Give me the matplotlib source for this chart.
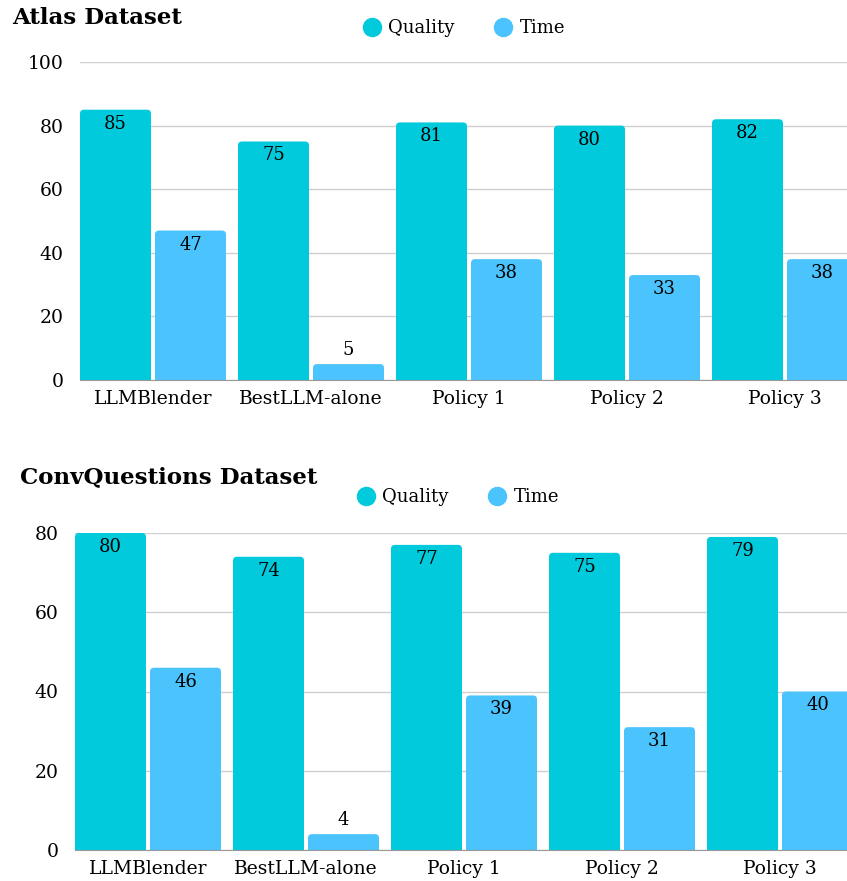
import matplotlib.pyplot as plt
import numpy as np
from matplotlib.patches import FancyBboxPatch
from matplotlib.lines import Line2D

categories = ["LLMBlender", "BestLLM-alone", "Policy 1", "Policy 2", "Policy 3"]
atlas_quality = [85, 75, 81, 80, 82]
atlas_time = [47, 5, 38, 33, 38]
conv_quality = [80, 74, 77, 75, 79]
conv_time = [46, 4, 39, 31, 40]

c_quality = "#00CADB"
c_time = "#4BC3FD"
font = "DejaVu Serif"

plt.rcParams["font.family"] = font

fig = plt.figure(figsize=(8.47, 8.81), dpi=100)

W, H = 847, 881
bw = 71 / 158
off = 75 / 158 / 2


def panel(left_px, zero_px, top_px, ymax, quality, time):
    ax = fig.add_axes([left_px / W, 1 - zero_px / H, (W - left_px) / W, (zero_px - top_px) / H])
    x = np.arange(len(categories))
    x0 = -off - bw / 2
    ax.set_xlim(x0, x0 + (W - left_px) / 158)
    ax.set_ylim(0, ymax)
    ppu = (zero_px - top_px) / ymax  # pixels per y unit
    r = 4
    for vals, dx, col in [(quality, -off, c_quality), (time, off, c_time)]:
        bars = ax.bar(x + dx, vals, width=bw, color=col)
        for b, v in zip(bars, vals):
            b.set_visible(False)
            p = FancyBboxPatch((b.get_x(), -r / ppu), b.get_width(), v + r / ppu,
                               boxstyle=f"round,pad=0,rounding_size={r / 158}",
                               mutation_aspect=(158 / ppu),
                               fc=col, ec="none", zorder=2)
            ax.add_patch(p)
            if v > 10:
                ax.text(b.get_x() + b.get_width() / 2, v - 14 / ppu, str(v),
                        ha="center", va="center", fontsize=13, zorder=3)
            else:
                ax.text(b.get_x() + b.get_width() / 2, v + 14 / ppu, str(v),
                        ha="center", va="center", fontsize=13, zorder=3)
    ax.set_yticks(np.arange(0, ymax + 1, 20))
    ax.grid(axis="y", color="#d0d0d0", lw=1, zorder=0)
    ax.set_axisbelow(True)
    for s in ["top", "right", "left"]:
        ax.spines[s].set_visible(False)
    ax.spines["bottom"].set_color("#999999")
    ax.spines["bottom"].set_zorder(4)
    ax.set_xticks(x)
    ax.set_xticklabels(categories)
    ax.tick_params(length=0, labelsize=13.5, pad=7)
    ax.tick_params(axis="y", pad=12)
    return ax


panel(80, 380, 62, 100, atlas_quality, atlas_time)
panel(75, 850, 533, 80, conv_quality, conv_time)

fig.text(12 / W, 1 - 18 / H, "Atlas Dataset", fontsize=16.5, fontweight="bold", va="center", ha="left")
fig.text(20 / W, 1 - 477 / H, "ConvQuestions Dataset", fontsize=16.5, fontweight="bold", va="center", ha="left")

handles = [Line2D([], [], marker="o", ls="", ms=13, color=c_quality, label="Quality"),
           Line2D([], [], marker="o", ls="", ms=13, color=c_time, label="Time")]
for xc, yc in [(464, 28), (458, 497)]:
    fig.legend(handles=handles, loc="center", bbox_to_anchor=(xc / W, 1 - yc / H), ncol=2,
               frameon=False, fontsize=13, handletextpad=0.4, columnspacing=2.2, handlelength=1.0)

fig.savefig("out.png", dpi=100)
